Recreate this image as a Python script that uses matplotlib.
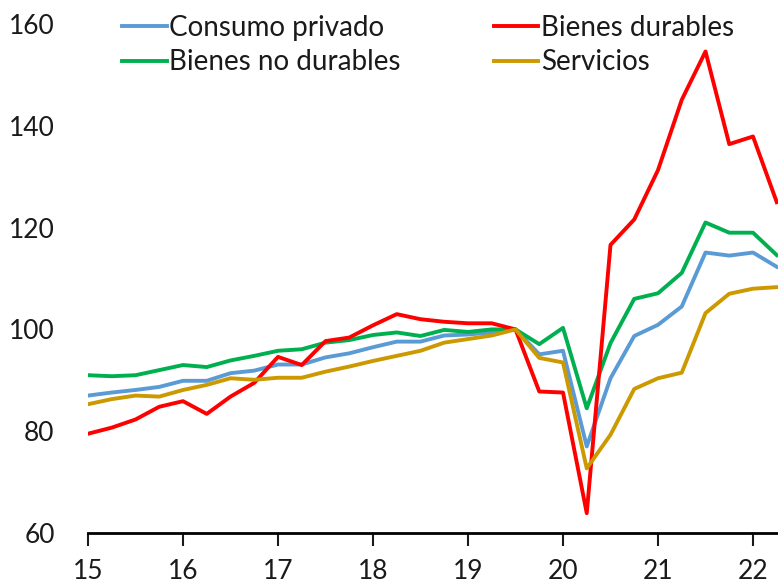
import matplotlib
matplotlib.use('Agg')
import matplotlib.pyplot as plt
import numpy as np

plt.rcParams['font.family'] = ['Lato', 'DejaVu Sans']

# quarterly index, 2015Q1 .. 2022Q2 (2019Q3 = 100)
years = [15, 16, 17, 18, 19, 20, 21, 22]
consumo = [87.0, 87.6, 88.1, 88.7, 89.9, 89.9, 91.4, 91.9, 93.1, 93.1,
           94.5, 95.3, 96.5, 97.6, 97.6, 98.8, 99.0, 99.4, 100.0, 95.1,
           95.8, 77.0, 90.4, 98.7, 100.9, 104.5, 115.1, 114.5, 115.1, 112.3]
durables = [79.5, 80.7, 82.3, 84.8, 85.9, 83.4, 86.8, 89.5, 94.6, 93.0,
            97.7, 98.4, 100.8, 103.0, 102.0, 101.5, 101.2, 101.2, 100.0, 87.8,
            87.6, 63.9, 116.6, 121.6, 131.3, 145.1, 154.6, 136.4, 137.9, 125.0]
no_durables = [91.0, 90.8, 91.0, 92.0, 93.0, 92.6, 93.9, 94.8, 95.8, 96.1,
               97.4, 97.9, 98.9, 99.4, 98.7, 99.9, 99.5, 100.0, 100.0, 97.1,
               100.3, 84.5, 97.3, 106.0, 107.1, 111.1, 121.0, 119.0, 119.0, 114.6]
servicios = [85.3, 86.3, 87.0, 86.8, 88.1, 89.1, 90.4, 90.1, 90.5, 90.5,
             91.7, 92.7, 93.8, 94.8, 95.8, 97.4, 98.1, 98.8, 100.0, 94.4,
             93.5, 72.7, 79.3, 88.3, 90.4, 91.5, 103.2, 107.0, 108.0, 108.3]

x = 15 + np.arange(len(consumo)) / 4

fig = plt.figure(figsize=(7.78, 5.84), dpi=100)
ax = fig.add_axes([88/778, 51/584, 1 - 88/778, 509/584])

lw = 2.8
ax.plot(x, consumo, color='#5B9BD5', lw=lw, label='Consumo privado')
ax.plot(x, no_durables, color='#00B050', lw=lw, label='Bienes no durables')
ax.plot(x, durables, color='#FF0000', lw=lw, label='Bienes durables')
ax.plot(x, servicios, color='#CC9900', lw=lw, label='Servicios')

ax.set_xlim(15, 15 + 690/95)
ax.set_ylim(60, 160)
ax.set_xticks(years)
ax.set_xticklabels([str(y) for y in years])
ax.set_yticks(range(60, 161, 20))

for s in ['top', 'right', 'left']:
    ax.spines[s].set_visible(False)
ax.spines['bottom'].set_linewidth(2)
ax.tick_params(axis='x', length=9, width=1.5, pad=10, labelsize=19, colors='#1a1a1a')
ax.tick_params(axis='y', length=0, pad=24, labelsize=19, colors='#1a1a1a')

leg = fig.legend(ncol=2, loc='upper left', bbox_to_anchor=(0.132, 1.008),
                 frameon=False, fontsize=20, handlelength=1.6, handletextpad=0.1,
                 columnspacing=3.35, labelspacing=0.31, borderpad=0.2)
for t in leg.get_texts():
    t.set_color('#1a1a1a')

fig.savefig('out.png', dpi=100)
